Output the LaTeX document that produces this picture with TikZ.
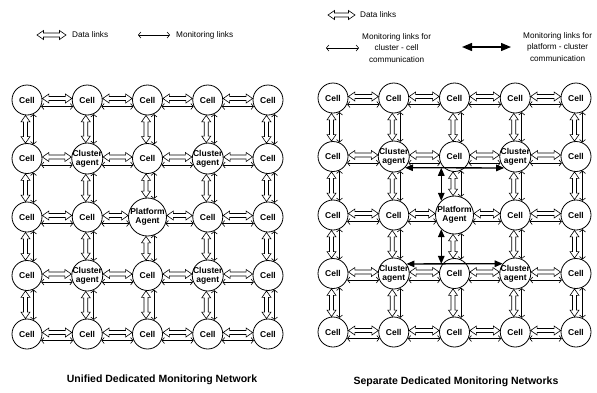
\documentclass[tikz,border=0pt]{standalone}
\usepackage{fontspec}
\setmainfont{Liberation Sans}
\usetikzlibrary{arrows.meta,calc,positioning}
\tikzset{
  cell/.style={circle, draw, line width=0.8pt, fill=white, minimum size=30pt, inner sep=-4pt, align=center, font=\bfseries\fontsize{8.5}{9}\selectfont},
  cluster/.style={cell, minimum size=31pt},
  platform/.style={cell, minimum size=38pt},
  datalink/.style={draw, fill=white, line width=0.6pt, to path={
    -- ($(\tikztostart)!6.5pt!(\tikztotarget)!4.5pt!90:(\tikztotarget)$)
    -- ($(\tikztostart)!6.5pt!(\tikztotarget)!2pt!90:(\tikztotarget)$)
    -- ($(\tikztotarget)!6.5pt!(\tikztostart)!2pt!-90:(\tikztostart)$)
    -- ($(\tikztotarget)!6.5pt!(\tikztostart)!4.5pt!-90:(\tikztostart)$)
    -- (\tikztotarget)
    -- ($(\tikztotarget)!6.5pt!(\tikztostart)!4.5pt!90:(\tikztostart)$)
    -- ($(\tikztotarget)!6.5pt!(\tikztostart)!2pt!90:(\tikztostart)$)
    -- ($(\tikztostart)!6.5pt!(\tikztotarget)!2pt!-90:(\tikztotarget)$)
    -- ($(\tikztostart)!6.5pt!(\tikztotarget)!4.5pt!-90:(\tikztotarget)$)
    -- cycle}},
  monlink/.style={line width=0.6pt, arrows={Straight Barb[length=2.5pt,width=6pt]-Straight Barb[length=2.5pt,width=6pt]}},
  pclink/.style={line width=1.3pt, arrows={Triangle[length=8pt,width=6.5pt]-Triangle[length=8pt,width=6.5pt]}},
  legend/.style={inner sep=0pt, align=center, font=\fontsize{8.2}{11.5}\selectfont},
  heading/.style={inner sep=0pt, font=\bfseries\fontsize{10.5}{12}\selectfont}
}
\begin{document}
\begin{tikzpicture}[x=1pt, y=-1pt]
\useasboundingbox (0,0) rectangle (597,392);
% the two 5x5 grids
\foreach \g/\gx/\gd/\gy in {u/27/60.25/100, s/333/60.75/98}{
  \foreach \r in {1,...,5}{
    \foreach \c in {1,...,5}{
      \tikzset{thisnode/.style={cell}}\def\txt{Cell}
      \ifodd\r\else\ifodd\c\else\tikzset{thisnode/.style={cluster}}\def\txt{Cluster\\agent}\fi\fi
      \ifnum\r\c=33 \tikzset{thisnode/.style={platform}}\def\txt{Platform\\Agent}\fi
      \node[thisnode] (\g-\r-\c) at ({\gx+\gd*(\c-1)}, {\gy+58.5*(\r-1)}) {\txt};
    }
  }
}
\foreach \g in {u,s}{
  \foreach \r in {1,...,5}{
    \foreach \c in {1,...,4}{
      \pgfmathtruncatemacro\d{\c+1}
      \draw[datalink, transform canvas={yshift=1.5pt}] (\g-\r-\c.east) to (\g-\r-\d.west);
      \draw[monlink, shorten <=-1.3pt, shorten >=-1.3pt, transform canvas={yshift=-6.5pt}] (\g-\r-\c) -- (\g-\r-\d);
      \draw[datalink, transform canvas={xshift=-1.5pt}] (\g-\c-\r.south) to (\g-\d-\r.north);
      \draw[monlink, shorten <=-1.3pt, shorten >=-1.3pt, transform canvas={xshift=6.5pt}] (\g-\c-\r) -- (\g-\d-\r);
    }
  }
}
% platform - cluster links
\coordinate (pctop) at (s-3-3.133.2 |- s-2-2.-45.2);
\coordinate (pcbot) at (s-3-3.-133.2 |- s-4-2.37.8);
\draw[pclink] (s-2-2.-45.2) -- (s-2-4.-134.8);
\draw[pclink] (pctop) -- (s-3-3.133.2);
\draw[pclink] (s-4-2.37.8) -- (s-4-4.142.2);
\draw[pclink] (pcbot) -- (s-3-3.-133.2);
% legends
\coordinate (ud1) at (37,35);
\coordinate (ud2) at (66,35);
\draw[datalink] (ud1) to (ud2);
\node[legend, right=6pt of ud2] (udtxt) {Data links};
\coordinate (um1) at (138,35);
\coordinate (um2) at (170,35);
\draw[monlink] (um1) -- (um2);
\node[legend, right=6pt of um2] (umtxt) {Monitoring links};
\coordinate (sd1) at (328,15);
\coordinate (sd2) at (355,15);
\draw[datalink] (sd1) to (sd2);
\node[legend, right=5pt of sd2] (sdtxt) {Data links};
\coordinate (sm1) at (326,48);
\coordinate (sm2) at (359,48);
\draw[monlink] (sm1) -- (sm2);
\node[legend, right=3pt of sm2] (smtxt) {Monitoring links for\\cluster - cell\\communication};
\coordinate (sp1) at (462,47);
\coordinate (sp2) at (511,47);
\draw[pclink, arrows={Triangle[length=10pt,width=8pt]-Triangle[length=10pt,width=8pt]}] (sp1) -- (sp2);
\node[legend, right=12pt of sp2] (sptxt) {Monitoring links for\\platform - cluster\\communication};
% titles
\node[heading] (utitle) at (162,380) {Unified Dedicated Monitoring Network};
\node[heading] (stitle) at (456,382) {Separate Dedicated Monitoring Networks};
\end{tikzpicture}
\end{document}
